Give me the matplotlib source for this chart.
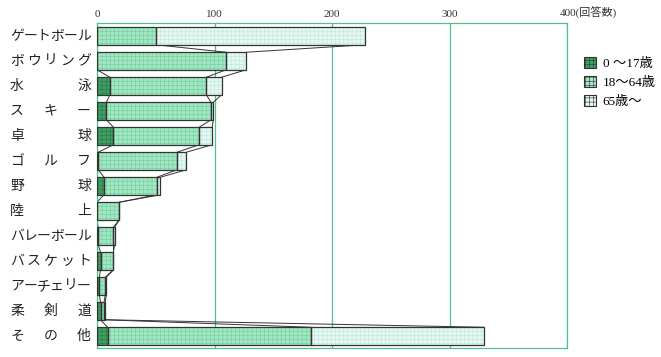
import matplotlib as mpl
import matplotlib.pyplot as plt
from matplotlib.patches import Patch
from matplotlib.transforms import blended_transform_factory
import numpy as np

mpl.rcParams['hatch.linewidth'] = 0.4

# data (responses by age group)
categories = ['ゲートボール', 'ボウリング', '水泳', 'スキー', '卓球', 'ゴルフ', '野球',
              '陸上', 'バレーボール', 'バスケット', 'アーチェリー', '柔剣道', 'その他']
age_0_17 = [0, 0, 11, 8, 14, 1, 6, 0, 1, 3, 2, 3, 9]
age_18_64 = [50, 110, 82, 89, 73, 67, 45, 19, 13, 11, 5, 3, 173]
age_65_up = [178, 17, 13, 2, 11, 8, 3, 0, 1, 0, 1, 1, 147]
series_names = ['0 ～17歳', '18～64歳', '65歳～']
x_ticks = [0, 100, 200, 300, 400]
x_ticklabels = ['0', '100', '200', '300', '400(回答数)']

serif_jp = ['Liberation Serif', 'Noto Sans CJK JP']
jp = ['Noto Sans CJK JP', 'DejaVu Sans']

fills = ['#3f9d62', '#a3e6c3', '#e6f7f2']
hatch_cols = ['#2a7a48', '#6fcf9c', '#b9e9dc']
green = '#4cc38a'
edge = '#333333'

fig = plt.figure(figsize=(6.61, 3.57), dpi=100)
ax = fig.add_axes([97 / 661, 1 - 348 / 357, 470 / 661, 325 / 357])

y = np.arange(len(categories))
h = 0.70
a = np.array(age_0_17)
b = np.array(age_18_64)
c = np.array(age_65_up)
lefts = [np.zeros(len(a)), a, a + b]
for vals, left, fc, hc in zip([a, b, c], lefts, fills, hatch_cols):
    ax.barh(y, vals, left=left, height=h, color=fc, edgecolor=hc,
            linewidth=0, hatch='++++', zorder=3)
    ax.barh(y, vals, left=left, height=h, fill=False, edgecolor=edge,
            linewidth=0.9, zorder=4)

# series lines between consecutive bars
for cum in [a, a + b, a + b + c]:
    for i in range(len(y) - 1):
        ax.plot([cum[i], cum[i + 1]], [y[i] + h / 2, y[i + 1] - h / 2],
                color=edge, lw=0.7, zorder=2)

ax.set_xlim(0, 400)
ax.set_ylim(12.48, -0.52)
ax.set_yticks([])
ax.xaxis.tick_top()
ax.set_xticks(x_ticks)
ax.set_xticklabels(x_ticklabels, family=serif_jp, fontsize=8, color='#333333')
ax.tick_params(axis='x', length=0, pad=3)
last = ax.get_xticklabels()[-1]
last.set_horizontalalignment('left')
last.set_transform(last.get_transform() +
                   mpl.transforms.ScaledTranslation(-0.07, 0, fig.dpi_scale_trans))
ax.grid(axis='x', color=green, lw=0.9, zorder=1)
for s in ax.spines.values():
    s.set_color(green)
    s.set_linewidth(0.9)

# spaced-out category labels
tr = blended_transform_factory(fig.transFigure, ax.transData)
x_l, x_r = 17 / 661, 84 / 661
for yi, name in zip(y, categories):
    n = len(name)
    for k, ch in enumerate(name):
        xx = x_l + k * (x_r - x_l) / (n - 1)
        ax.text(xx, yi, ch, transform=tr, ha='center', va='center',
                fontsize=10, family=jp, color='#222222', clip_on=False)

handles = [Patch(facecolor=fc, edgecolor=edge, hatch='++++', lw=0.8)
           for fc in fills]
leg = fig.legend(handles, series_names, loc='upper left',
                 bbox_to_anchor=(575 / 661, 1 - 48 / 357), frameon=False,
                 prop={'family': serif_jp, 'size': 9.5}, handlelength=0.9,
                 handleheight=0.9, handletextpad=0.5, labelspacing=0.45,
                 borderpad=0.2)

fig.savefig('out.png', dpi=100)
